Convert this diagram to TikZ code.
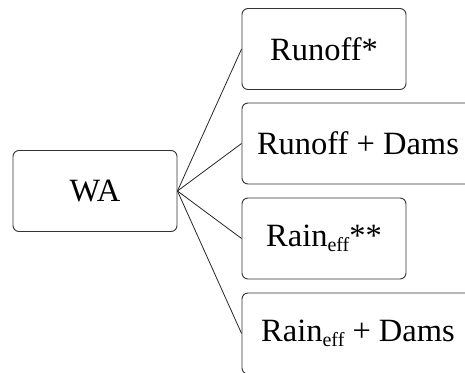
\documentclass[tikz,border=0pt]{standalone}
\usepackage{fontspec}
\setmainfont{Liberation Serif}
% lowered, smaller subscript text
\newcommand{\lowsub}[1]{\raisebox{-0.3ex}{\fontsize{20}{22}\selectfont #1}}
\begin{document}
\begin{tikzpicture}[x=1pt,y=-1pt,
  box/.style={draw=black!80, line width=0.9pt, rounded corners=6pt,
    minimum height=81pt, inner sep=0pt, font=\fontsize{32.5}{38}\selectfont},
  smallbox/.style={box, minimum width=164pt},
  widebox/.style={box, minimum width=232pt},
  link/.style={draw=black!85, line width=0.8pt}]
  \useasboundingbox (0,0) rectangle (465,372);
  \node[smallbox] (wa) at (95,191) {WA};
  \node[smallbox] (runoff) at (324,49) {Runoff*};
  \node[widebox] (runoffdams) at (358,143.5) {Runoff + Dams};
  \node[smallbox] (rain) at (324,238.5) {Rain\lowsub{eff}**};
  \node[widebox] (raindams) at (358,333.5) {Rain\lowsub{eff} + Dams};
  \foreach \t in {runoff,runoffdams,rain,raindams}
    \draw[link] (wa.east) -- (\t.west);
\end{tikzpicture}
\end{document}
